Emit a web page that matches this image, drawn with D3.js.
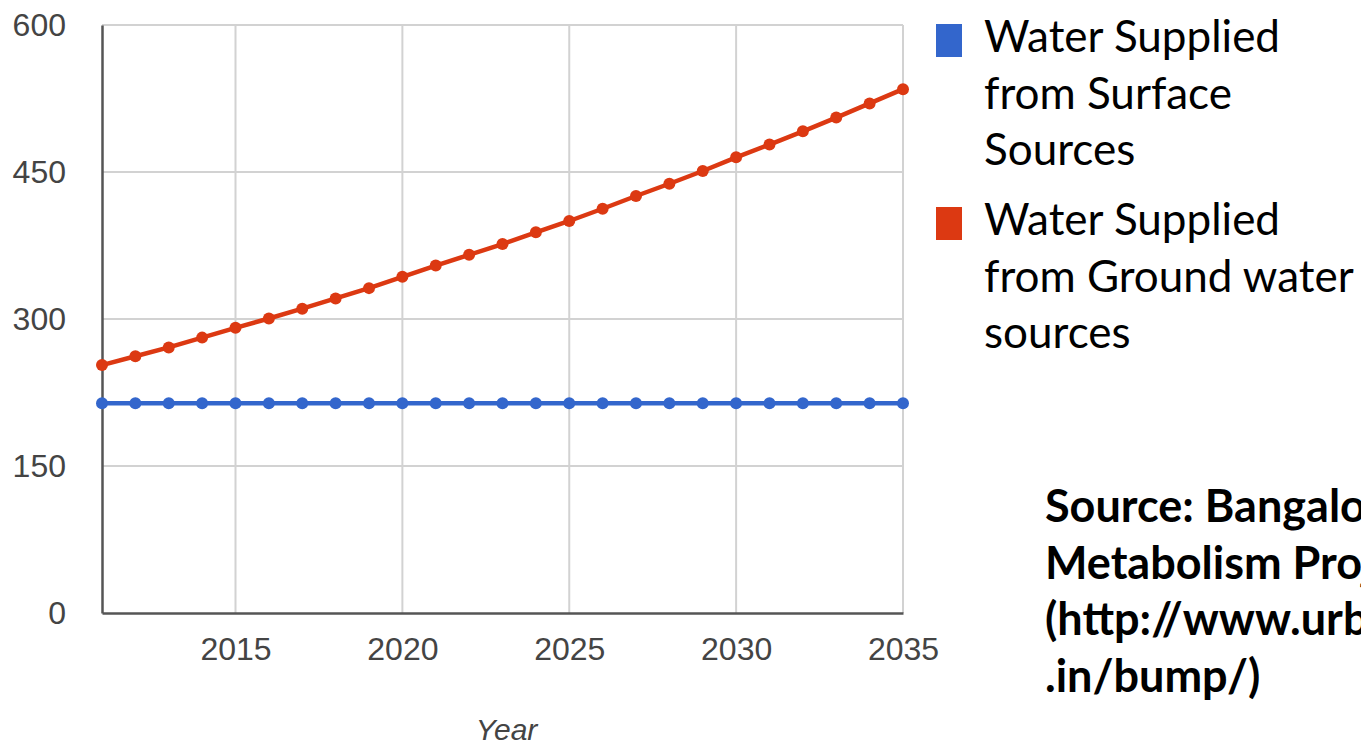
<!DOCTYPE html>
<html>
<head>
<meta charset="utf-8">
<script src="https://cdn.jsdelivr.net/npm/d3@7"></script>
<style>
  html, body { margin: 0; padding: 0; background: #fff; overflow: hidden; }
  svg { display: block; }
</style>
</head>
<body>
<div id="chart"></div>
<script>
// Yearly water supply (MLD) for Bangalore, 2011–2035
const years = d3.range(2011, 2036);
const surfaceSupply = [
  214, 214, 214, 214, 214, 214, 214, 214, 214, 214, 214, 214, 214,
  214, 214, 214, 214, 214, 214, 214, 214, 214, 214, 214, 214
];
const groundSupply = [
  253, 262, 271, 281, 291, 300.5, 310.5, 321, 331.5, 343, 354.5, 365.5, 376.5,
  388.5, 400, 412.5, 425.5, 438, 451, 465, 478, 491.5, 505.5, 520, 534.5
];
const yTicks = [0, 150, 300, 450, 600];
const xTicks = [2015, 2020, 2025, 2030, 2035];
const seriesNames = [
  ["Water Supplied", "from Surface", "Sources"],
  ["Water Supplied", "from Ground water", "sources"]
];
const seriesColors = ["#3366cc", "#dc3912"];
const sourceLines = ["Source: Bangalore Urban", "Metabolism Project", "(http://www.urbanemissions", ".in/bump/)"];

const W = 1361, H = 746;
const plot = { left: 102, right: 903, top: 25, bottom: 613 };

const svg = d3.select("#chart").append("svg")
  .attr("width", W).attr("height", H)
  .style("overflow", "hidden");

const x = d3.scaleLinear().domain([2011, 2035]).range([plot.left, plot.right]);
const y = d3.scaleLinear().domain([0, 600]).range([plot.bottom, plot.top]);

// Gridlines
const grid = svg.append("g");
grid.selectAll("line.h").data(yTicks.filter(d => d > 0)).join("line")
  .attr("x1", plot.left).attr("x2", plot.right)
  .attr("y1", d => y(d)).attr("y2", d => y(d))
  .attr("stroke", "#d2d2d2").attr("stroke-width", 2);
grid.selectAll("line.v").data(xTicks).join("line")
  .attr("x1", d => x(d)).attr("x2", d => x(d))
  .attr("y1", plot.top).attr("y2", plot.bottom)
  .attr("stroke", "#d2d2d2").attr("stroke-width", 2);

// Axes
const yAxis = d3.axisLeft(y).tickValues(yTicks).tickSize(0).tickPadding(36);
const xAxis = d3.axisBottom(x).tickValues(xTicks).tickSize(0).tickPadding(24).tickFormat(d3.format("d"));

const gy = svg.append("g").attr("transform", `translate(${plot.left},0)`).call(yAxis);
const gx = svg.append("g").attr("transform", `translate(0,${plot.bottom})`).call(xAxis);
[gy, gx].forEach(g => {
  g.select(".domain").attr("stroke", "#555").attr("stroke-width", 2.5);
  g.selectAll("text")
    .attr("fill", "#444")
    .style("font-family", "'Liberation Sans', Arial, sans-serif")
    .style("font-size", "32px");
});

// Series
const allSeries = [surfaceSupply, groundSupply];
const line = d3.line().x((d, i) => x(years[i])).y(d => y(d));
allSeries.forEach((vals, si) => {
  svg.append("path").datum(vals)
    .attr("d", line)
    .attr("fill", "none")
    .attr("stroke", seriesColors[si])
    .attr("stroke-width", 4.5);
  svg.append("g").selectAll("circle").data(vals).join("circle")
    .attr("cx", (d, i) => x(years[i]))
    .attr("cy", d => y(d))
    .attr("r", 6)
    .attr("fill", seriesColors[si]);
});

// X axis title
svg.append("text")
  .attr("x", (plot.left + plot.right) / 2 + 4).attr("y", 740)
  .attr("text-anchor", "middle")
  .attr("fill", "#444")
  .style("font-family", "'Liberation Sans', Arial, sans-serif")
  .style("font-size", "30px")
  .style("font-style", "italic")
  .text("Year");

// Legend
const legendTop = [24, 207];
const legend = svg.append("g");
seriesNames.forEach((lines, si) => {
  legend.append("rect")
    .attr("x", 936).attr("y", legendTop[si])
    .attr("width", 26).attr("height", 33)
    .attr("fill", seriesColors[si]);
  lines.forEach((t, li) => {
    legend.append("text")
      .attr("x", 984).attr("y", legendTop[si] + 28 + li * 56.5)
      .attr("fill", "#000")
      .style("font-family", "Lato, 'Open Sans', sans-serif")
      .style("font-size", "44px")
      .text(t);
  });
});

// Source note (runs past the right edge of the page)
sourceLines.forEach((t, i) => {
  svg.append("text")
    .attr("x", 1045).attr("y", 522 + i * 56.7)
    .attr("fill", "#000")
    .style("font-family", "Lato, 'Open Sans', sans-serif")
    .style("font-size", "45px")
    .style("font-weight", "bold")
    .text(t);
});
</script>
</body>
</html>
